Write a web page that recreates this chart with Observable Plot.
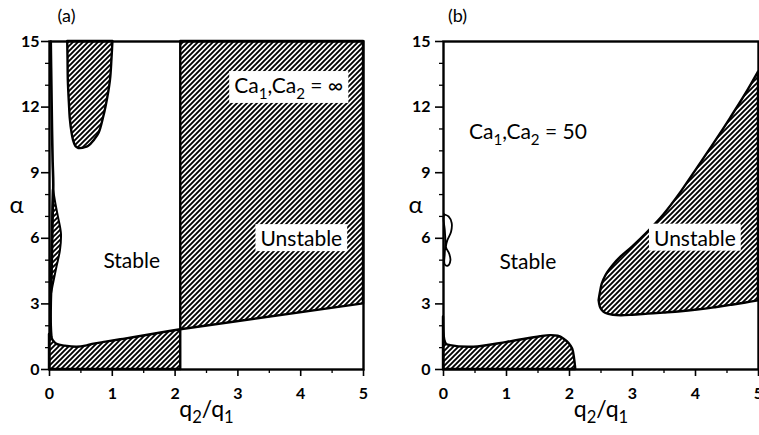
<!DOCTYPE html>
<html>
<head>
<meta charset="utf-8">
<script src="https://cdn.jsdelivr.net/npm/d3@7"></script>
<script src="https://cdn.jsdelivr.net/npm/@observablehq/plot@0.6"></script>
<style>
  body { margin: 0; background: white; }
  #wrap { display: flex; flex-direction: row; width: 759px; height: 435px; overflow: hidden; background: white; }
</style>
</head>
<body>
<svg width="0" height="0" style="position:absolute">
  <defs>
    <pattern id="hatch" patternUnits="userSpaceOnUse" width="5" height="5">
      <path d="M-1,1 l2,-2 M0,5 l5,-5 M4,6 l2,-2" stroke="black" stroke-width="1.9" fill="none"/>
    </pattern>
  </defs>
</svg>
<div id="wrap"></div>
<script>
// ---- axis ticks ----
const xTicks = [0, 1, 2, 3, 4, 5];
const xMinorTicks = [0.5, 1.5, 2.5, 3.5, 4.5];
const yTicks = [0, 3, 6, 9, 12, 15];
const yMinorTicks = [1, 2, 4, 5, 7, 8, 10, 11, 13, 14];

// ---- panel (a): Ca1,Ca2 = infinity ----
const aBottomX = [0, 0.03, 0.06, 0.12, 0.25, 0.44, 0.6, 0.71, 0.9, 1.18, 1.5, 1.8, 2.09];
const aBottomY = [1.6, 1.5, 1.32, 1.15, 1.07, 1.02, 1.08, 1.16, 1.25, 1.38, 1.53, 1.68, 1.82];
const aRightX = [2.09, 5];
const aRightLow = [1.82, 3.0];
const aRightHigh = [15, 15];
const aTongueY = [10.1, 10.2, 10.5, 10.8, 11.5, 12.0, 13.2, 14.2, 15];
const aTongueLeft = [0.47, 0.42, 0.38, 0.36, 0.33, 0.32, 0.30, 0.295, 0.29];
const aTongueRight = [0.49, 0.62, 0.72, 0.79, 0.86, 0.9, 0.97, 0.995, 1.01];
const aSliverY = [3.5, 4.0, 4.7, 5.45, 6.2, 7.0, 7.6, 8.2];
const aSliverLeft = [0.03, 0.03, 0.035, 0.04, 0.045, 0.05, 0.055, 0.06];
const aSliverRight = [0.035, 0.07, 0.12, 0.175, 0.19, 0.14, 0.1, 0.065];
const aCurveX = [0.02, 0.03, 0.04, 0.05, 0.06, 0.05, 0.04, 0.03, 0.02, 0.02, 0.03];
const aCurveY = [15, 13, 11, 9.5, 8.5, 7.0, 5.45, 4.0, 3.0, 2.0, 1.5];

// ---- panel (b): Ca1,Ca2 = 50 ----
const bBottomX = [0, 0.02, 0.05, 0.11, 0.48, 1.01, 1.54, 1.7, 1.82, 1.91, 1.99, 2.05, 2.08, 2.1];
const bBottomY = [2.4, 1.35, 1.15, 1.09, 1.02, 1.24, 1.5, 1.55, 1.52, 1.4, 1.2, 0.94, 0.5, 0];
const bTongueX = [2.47, 2.49, 2.52, 2.58, 2.7, 2.82, 3.0, 3.25, 3.5, 3.77, 4.03, 4.3, 4.56, 4.8, 5.0];
const bTongueLow = [3.15, 2.85, 2.7, 2.56, 2.48, 2.46, 2.48, 2.53, 2.58, 2.64, 2.72, 2.82, 2.93, 3.04, 3.14];
const bTongueHigh = [3.15, 3.5, 3.9, 4.3, 4.78, 5.15, 5.6, 6.3, 7.08, 8.1, 9.2, 10.35, 11.5, 12.6, 13.6];
const bLoopX = [0.01, 0.08, 0.13, 0.12, 0.06, 0.04, 0.09, 0.11, 0.07, 0.02, 0.02, 0.03, 0.02, 0.0, 0.01];
const bLoopY = [7.1, 7.0, 6.7, 6.3, 5.9, 5.6, 5.3, 5.0, 4.75, 4.8, 5.3, 5.8, 6.4, 6.9, 7.1];

// labels drawn over a white box
const boxedLabels = ["Unstable", "Ca₁,Ca₂ = ∞"];

const zip = (keys, ...cols) => cols[0].map((_, i) => Object.fromEntries(keys.map((k, j) => [k, cols[j][i]])));

const FONT = "Lato, 'DejaVu Sans', sans-serif";
const HATCH = "url(#hatch)";
const SW = 2.4;

function axes(tickSize, tickPadding) {
  return [
    Plot.frame({strokeWidth: 2.4}),
    Plot.axisX({ticks: xTicks, tickSize: 7, tickPadding: 11, strokeWidth: 1.6, fontSize: 16, fontWeight: "bold", label: null, tickFormat: d => String(d)}),
    Plot.axisX({ticks: xMinorTicks, tickSize: 4, strokeWidth: 1.3, text: null, label: null}),
    Plot.axisY({ticks: yTicks, tickSize, tickPadding, strokeWidth: 1.6, fontSize: 16, fontWeight: "bold", label: null, tickFormat: d => String(d)}),
    Plot.axisY({ticks: yMinorTicks, tickSize: 4, strokeWidth: 1.3, text: null, label: null})
  ];
}

const common = (ml, mr, w) => ({
  width: w, height: 435, marginLeft: ml, marginRight: mr, marginTop: 41, marginBottom: 66,
  x: {domain: [0, 5]}, y: {domain: [0, 15]},
  style: {fontFamily: FONT, background: "white", color: "black", overflow: "visible"}
});

const plotA = Plot.plot({
  ...common(49, 17, 380),
  marks: [
    Plot.areaY(zip(["x", "y"], aBottomX, aBottomY), {x: "x", y: "y", fill: HATCH, stroke: "black", strokeWidth: SW, curve: "catmull-rom"}),
    Plot.areaY(zip(["x", "lo", "hi"], aRightX, aRightLow, aRightHigh), {x: "x", y1: "lo", y2: "hi", fill: HATCH, stroke: "black", strokeWidth: SW}),
    Plot.areaX(zip(["y", "l", "r"], aTongueY, aTongueLeft, aTongueRight), {y: "y", x1: "l", x2: "r", fill: HATCH, stroke: "black", strokeWidth: SW, curve: "catmull-rom"}),
    Plot.areaX(zip(["y", "l", "r"], aSliverY, aSliverLeft, aSliverRight), {y: "y", x1: "l", x2: "r", fill: HATCH, stroke: "black", strokeWidth: 2, curve: "catmull-rom"}),
    Plot.line(zip(["x", "y"], aCurveX, aCurveY), {x: "x", y: "y", stroke: "black", strokeWidth: 2.6, curve: "catmull-rom"}),
    ...axes(8, 2),
    Plot.text(["Stable"], {x: 1.31, y: 4.94, text: d => d, fontSize: 21}),
    Plot.text(["Unstable"], {x: 4.01, y: 5.95, text: d => d, fontSize: 21}),
    Plot.text(["Ca₁,Ca₂ = ∞"], {x: 3.81, y: 12.95, text: d => d, fontSize: 21}),
    Plot.text(["(a)"], {frameAnchor: "top-left", dx: 17, dy: -25, textAnchor: "middle", lineAnchor: "middle", text: d => d, fontSize: 18}),
    Plot.text(["α"], {frameAnchor: "left", dx: -33, textAnchor: "middle", lineAnchor: "middle", text: d => d, fontSize: 24}),
    Plot.text(["q₂/q₁"], {frameAnchor: "bottom", dy: 40, textAnchor: "middle", lineAnchor: "middle", text: d => d, fontSize: 23})
  ]
});

const plotB = Plot.plot({
  ...common(63, 1, 379),
  marks: [
    Plot.areaY(zip(["x", "y"], bBottomX, bBottomY), {x: "x", y: "y", fill: HATCH, stroke: "black", strokeWidth: SW, curve: "catmull-rom"}),
    Plot.areaY(zip(["x", "lo", "hi"], bTongueX, bTongueLow, bTongueHigh), {x: "x", y1: "lo", y2: "hi", fill: HATCH, stroke: "black", strokeWidth: SW, curve: "catmull-rom"}),
    Plot.line(zip(["x", "y"], bLoopX, bLoopY), {x: "x", y: "y", stroke: "black", strokeWidth: 1.8, curve: "catmull-rom"}),
    ...axes(8, 5),
    Plot.text(["Stable"], {x: 1.34, y: 4.92, text: d => d, fontSize: 21}),
    Plot.text(["Unstable"], {x: 3.99, y: 5.97, text: d => d, fontSize: 21}),
    Plot.text(["Ca₁,Ca₂ = 50"], {x: 1.34, y: 10.85, text: d => d, fontSize: 21}),
    Plot.text(["(b)"], {frameAnchor: "top-left", dx: 14, dy: -25, textAnchor: "middle", lineAnchor: "middle", text: d => d, fontSize: 18}),
    Plot.text(["α"], {frameAnchor: "left", dx: -28, textAnchor: "middle", lineAnchor: "middle", text: d => d, fontSize: 24}),
    Plot.text(["q₂/q₁"], {frameAnchor: "bottom", dy: 40, textAnchor: "middle", lineAnchor: "middle", text: d => d, fontSize: 23})
  ]
});

const wrap = document.getElementById("wrap");
wrap.appendChild(plotA);
wrap.appendChild(plotB);

const SVGNS = "http://www.w3.org/2000/svg";
function subscriptify(svg) {
  svg.querySelectorAll("text").forEach(t => {
    const s = t.textContent;
    if (!/[\u2080-\u2089]/.test(s)) return;
    const fs = parseFloat(getComputedStyle(t).fontSize) || 16;
    const shift = (0.28 * fs).toFixed(1);
    t.textContent = "";
    let lowered = false;
    s.split(/([\u2080-\u2089]+)/).forEach(p => {
      if (!p) return;
      const ts = document.createElementNS(SVGNS, "tspan");
      if (/[\u2080-\u2089]/.test(p)) {
        ts.textContent = p.replace(/[\u2080-\u2089]/g, c => String(c.charCodeAt(0) - 0x2080));
        ts.setAttribute("font-size", (0.72 * fs).toFixed(1));
        ts.setAttribute("dy", shift);
        lowered = true;
      } else {
        ts.textContent = p;
        if (lowered) { ts.setAttribute("dy", -shift); lowered = false; }
      }
      t.appendChild(ts);
    });
  });
}
function boxes(svg) {
  svg.querySelectorAll("text").forEach(t => {
    if (!boxedLabels.includes(t.textContent)) return;
    t.dataset.boxed = "1";
  });
}
function drawBoxes(svg) {
  svg.querySelectorAll("text[data-boxed]").forEach(t => {
    const b = t.getBBox();
    const r = document.createElementNS(SVGNS, "rect");
    r.setAttribute("x", b.x - 5);
    r.setAttribute("y", b.y - 1);
    r.setAttribute("width", b.width + 10);
    r.setAttribute("height", b.height + 2);
    r.setAttribute("fill", "white");
    r.setAttribute("stroke", "none");
    if (t.getAttribute("transform")) r.setAttribute("transform", t.getAttribute("transform"));
    t.parentNode.insertBefore(r, t);
  });
}
[plotA, plotB].forEach(svg => { boxes(svg); subscriptify(svg); drawBoxes(svg); });
</script>
</body>
</html>
